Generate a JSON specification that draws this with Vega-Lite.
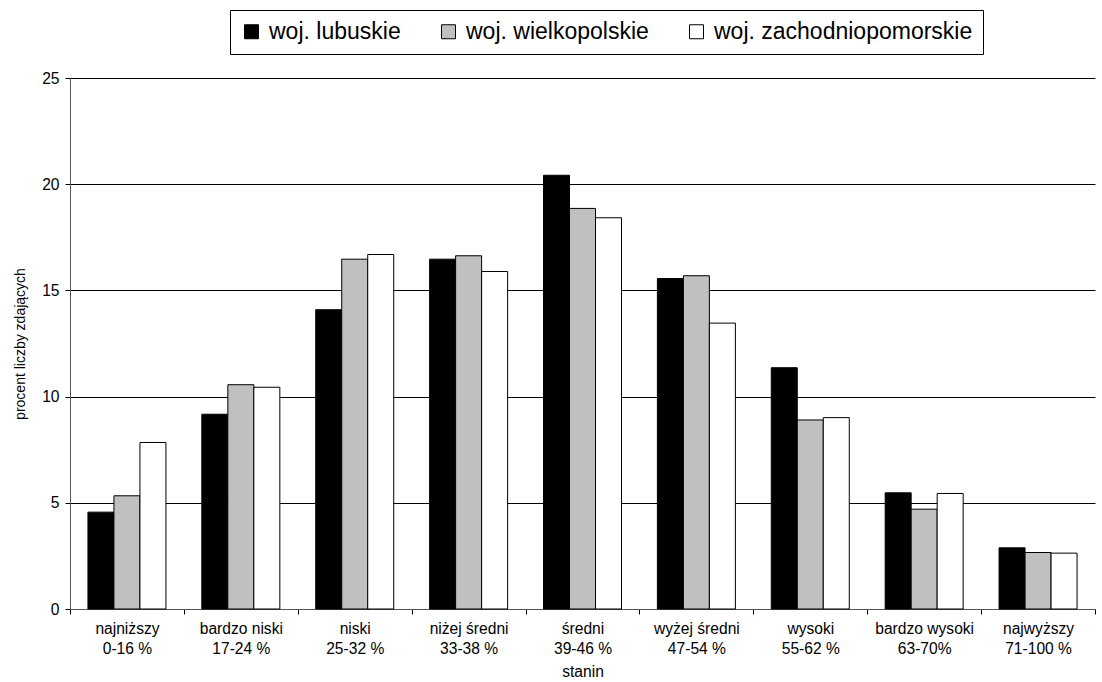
{
  "$schema": "https://vega.github.io/schema/vega-lite/v6.json",
  "width": 1025,
  "height": 531,
  "autosize": {"type": "none"},
  "padding": {"left": 70, "top": 78, "right": 7, "bottom": 73},
  "background": "white",
  "config": {"font": "Liberation Sans", "view": {"stroke": null}},
  "data": {
    "values": [
      {"stanin": "najniższy|0-16 %", "woj": "woj. lubuskie", "procent": 4.56},
      {"stanin": "najniższy|0-16 %", "woj": "woj. wielkopolskie", "procent": 5.33},
      {"stanin": "najniższy|0-16 %", "woj": "woj. zachodniopomorskie", "procent": 7.84},
      {"stanin": "bardzo niski|17-24 %", "woj": "woj. lubuskie", "procent": 9.17},
      {"stanin": "bardzo niski|17-24 %", "woj": "woj. wielkopolskie", "procent": 10.56},
      {"stanin": "bardzo niski|17-24 %", "woj": "woj. zachodniopomorskie", "procent": 10.44},
      {"stanin": "niski|25-32 %", "woj": "woj. lubuskie", "procent": 14.09},
      {"stanin": "niski|25-32 %", "woj": "woj. wielkopolskie", "procent": 16.47},
      {"stanin": "niski|25-32 %", "woj": "woj. zachodniopomorskie", "procent": 16.69},
      {"stanin": "niżej średni|33-38 %", "woj": "woj. lubuskie", "procent": 16.47},
      {"stanin": "niżej średni|33-38 %", "woj": "woj. wielkopolskie", "procent": 16.63},
      {"stanin": "niżej średni|33-38 %", "woj": "woj. zachodniopomorskie", "procent": 15.89},
      {"stanin": "średni|39-46 %", "woj": "woj. lubuskie", "procent": 20.42},
      {"stanin": "średni|39-46 %", "woj": "woj. wielkopolskie", "procent": 18.86},
      {"stanin": "średni|39-46 %", "woj": "woj. zachodniopomorskie", "procent": 18.42},
      {"stanin": "wyżej średni|47-54 %", "woj": "woj. lubuskie", "procent": 15.56},
      {"stanin": "wyżej średni|47-54 %", "woj": "woj. wielkopolskie", "procent": 15.69},
      {"stanin": "wyżej średni|47-54 %", "woj": "woj. zachodniopomorskie", "procent": 13.46},
      {"stanin": "wysoki|55-62 %", "woj": "woj. lubuskie", "procent": 11.36},
      {"stanin": "wysoki|55-62 %", "woj": "woj. wielkopolskie", "procent": 8.9},
      {"stanin": "wysoki|55-62 %", "woj": "woj. zachodniopomorskie", "procent": 9.01},
      {"stanin": "bardzo wysoki|63-70%", "woj": "woj. lubuskie", "procent": 5.47},
      {"stanin": "bardzo wysoki|63-70%", "woj": "woj. wielkopolskie", "procent": 4.7},
      {"stanin": "bardzo wysoki|63-70%", "woj": "woj. zachodniopomorskie", "procent": 5.44},
      {"stanin": "najwyższy|71-100 %", "woj": "woj. lubuskie", "procent": 2.88},
      {"stanin": "najwyższy|71-100 %", "woj": "woj. wielkopolskie", "procent": 2.66},
      {"stanin": "najwyższy|71-100 %", "woj": "woj. zachodniopomorskie", "procent": 2.63}
    ]
  },
  "mark": {"type": "bar", "stroke": "black", "strokeWidth": 1},
  "encoding": {
    "x": {
      "field": "stanin",
      "type": "nominal",
      "sort": ["najniższy|0-16 %", "bardzo niski|17-24 %", "niski|25-32 %", "niżej średni|33-38 %", "średni|39-46 %", "wyżej średni|47-54 %", "wysoki|55-62 %", "bardzo wysoki|63-70%", "najwyższy|71-100 %"],
      "scale": {"paddingInner": 0, "paddingOuter": 0},
      "axis": {
        "title": "stanin",
        "titleFontSize": 15.6,
        "titleFontWeight": "normal",
        "titleColor": "black",
        "titlePadding": 8,
        "labelAngle": 0,
        "labelExpr": "datum.value ? split(datum.value, '|') : ''",
        "labelFontSize": 15.6,
        "labelLineHeight": 20,
        "labelColor": "black",
        "labelPadding": 7,
        "tickBand": "extent",
        "tickSize": 5,
        "tickColor": "black",
        "domainColor": "#555555",
        "grid": false
      }
    },
    "xOffset": {
      "field": "woj",
      "type": "nominal",
      "sort": ["woj. lubuskie", "woj. wielkopolskie", "woj. zachodniopomorskie"],
      "scale": {"paddingInner": 0, "paddingOuter": 0.69}
    },
    "y": {
      "field": "procent",
      "type": "quantitative",
      "scale": {"domain": [0, 25], "nice": false},
      "axis": {
        "title": "procent liczby zdających",
        "titleFontSize": 14,
        "titleFontWeight": "normal",
        "titleColor": "black",
        "titlePadding": 14,
        "values": [0, 5, 10, 15, 20, 25],
        "labelFontSize": 15.6,
        "labelColor": "black",
        "labelPadding": 6,
        "tickSize": 5,
        "tickColor": "black",
        "domainColor": "#555555",
        "grid": true,
        "gridColor": "black",
        "gridOpacity": 1,
        "gridWidth": 1
      }
    },
    "color": {
      "field": "woj",
      "type": "nominal",
      "scale": {
        "domain": ["woj. lubuskie", "woj. wielkopolskie", "woj. zachodniopomorskie"],
        "range": ["#000000", "#c0c0c0", "#ffffff"]
      },
      "legend": {
        "title": null,
        "orient": "none",
        "legendX": 160,
        "legendY": -68,
        "direction": "horizontal",
        "strokeColor": "black",
        "fillColor": "white",
        "padding": 10,
        "symbolType": "square",
        "symbolSize": 196,
        "symbolStrokeColor": "black",
        "symbolStrokeWidth": 1,
        "symbolOpacity": 1,
        "labelFontSize": 23,
        "labelColor": "black",
        "labelOffset": 6,
        "labelLimit": 500,
        "columnPadding": 36
      }
    }
  }
}
